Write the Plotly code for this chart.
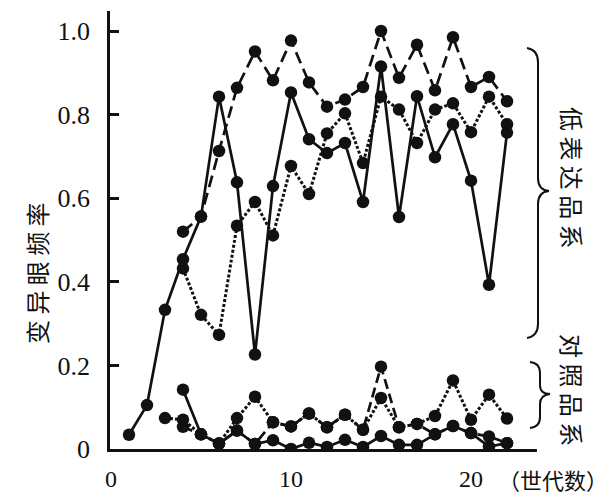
import plotly.graph_objects as go

# ---------------- data ----------------
gen_solid_high = list(range(1, 23))
solid_high = [0.034, 0.105, 0.333, 0.454, 0.556, 0.843, 0.638, 0.226, 0.629, 0.853, 0.741,
              0.708, 0.732, 0.591, 0.915, 0.555, 0.844, 0.698, 0.777, 0.642, 0.393, 0.757]
gen_dashed_high = list(range(4, 23))
dashed_high = [0.52, 0.556, 0.713, 0.864, 0.951, 0.882, 0.977, 0.877, 0.819, 0.836, 0.866,
               1.0, 0.888, 0.967, 0.858, 0.985, 0.866, 0.89, 0.832]
gen_dotted_high = list(range(4, 23))
dotted_high = [0.432, 0.321, 0.273, 0.534, 0.591, 0.511, 0.677, 0.61, 0.755, 0.803, 0.684,
               0.843, 0.812, 0.732, 0.812, 0.827, 0.758, 0.843, 0.777]

gen_dotted_ctrl = list(range(3, 23))
dotted_ctrl = [0.074, 0.07, 0.035, 0.013, 0.074, 0.125, 0.064, 0.054, 0.085, 0.052, 0.082,
               0.046, 0.122, 0.052, 0.06, 0.079, 0.164, 0.07, 0.13, 0.073]
gen_dashed_ctrl = list(range(4, 23))
dashed_ctrl = [0.053, 0.035, 0.013, 0.044, 0.012, 0.064, 0.054, 0.085, 0.052, 0.082, 0.046,
               0.197, 0.052, 0.06, 0.035, 0.055, 0.038, 0.03, 0.014]
gen_solid_ctrl = list(range(4, 23))
solid_ctrl = [0.142, 0.035, 0.013, 0.044, 0.012, 0.021, 0.0, 0.015, 0.005, 0.022, 0.005,
              0.031, 0.01, 0.01, 0.035, 0.055, 0.038, 0.006, 0.014]

y_tick_vals = [0, 0.2, 0.4, 0.6, 0.8, 1.0]
y_tick_text = ["0", "0.2", "0.4", "0.6", "0.8", "1.0"]
x_tick_vals = [0, 10, 20]
x_tick_text = ["0", "10", "20"]

y_title = "变异眼频率"
x_title = "（世代数）"
group_high = "低表达品系"
group_ctrl = "对照品系"

# ---------------- layout geometry ----------------
W, H = 613, 494
OFF = 8  # the page body has an 8px default margin
L, R, T, B = 110 - OFF, 537 - OFF, 11 - OFF, 449 - OFF


def px(x):
    return (x - OFF - L) / (R - L)


def py(y):
    return (B - (y - OFF)) / (B - T)


BLACK = "#111111"
CJK = "Noto Sans CJK SC"
SERIF = "Liberation Serif"

fig = go.Figure()


def add(xs, ys, dash, width=2.7):
    fig.add_trace(go.Scatter(
        x=xs, y=ys, mode="lines+markers",
        line=dict(color=BLACK, width=width, dash=dash),
        marker=dict(color=BLACK, size=12.5),
        showlegend=False, hoverinfo="skip"))


add(gen_dashed_ctrl, dashed_ctrl, "10px,5px")
add(gen_dotted_ctrl, dotted_ctrl, "3px,2px", 3)
add(gen_solid_ctrl, solid_ctrl, "solid")
add(gen_dotted_high, dotted_high, "3px,2px", 3)
add(gen_dashed_high, dashed_high, "12px,6px")
add(gen_solid_high, solid_high, "solid")

x0 = (L + OFF - 111) / 18.0
x1 = (R + OFF - 111) / 18.0
y1 = (B - T) / 418.0

fig.update_xaxes(range=[x0, x1], showline=True, linecolor=BLACK, linewidth=2.5,
                 showgrid=False, zeroline=False, ticks="", automargin=False,
                 tickvals=x_tick_vals, ticktext=x_tick_text,
                 tickfont=dict(family=SERIF, size=24, color=BLACK),
                 ticklabelstandoff=6)
fig.update_yaxes(range=[0, y1], showline=True, linecolor=BLACK, linewidth=2.5,
                 showgrid=False, zeroline=False, ticks="inside", ticklen=9,
                 tickwidth=2.5, tickcolor=BLACK, automargin=False,
                 tickvals=y_tick_vals, ticktext=y_tick_text,
                 tickfont=dict(family=SERIF, size=26, color=BLACK),
                 ticklabelstandoff=12)


def path_from(cmds):
    out = []
    for c in cmds:
        if isinstance(c, str):
            out.append(c)
        else:
            out.append("%.5f,%.5f" % (px(c[0]), py(c[1])))
    return " ".join(out)


top_brace = ["M", (527, 48), "Q", (538, 50), (538, 62), "L", (538, 178), "Q", (538, 190), (549, 191),
             "Q", (538, 192), (538, 204), "L", (538, 324), "Q", (538, 336), (527, 338)]
bot_brace = ["M", (530, 362), "Q", (540, 363), (540, 373), "L", (540, 385), "Q", (540, 394), (550, 394),
             "Q", (540, 395), (540, 404), "L", (540, 417), "Q", (540, 427), (530, 428)]

shapes = []
for b in (top_brace, bot_brace):
    shapes.append(dict(type="path", xref="paper", yref="paper", path=path_from(b),
                       line=dict(color=BLACK, width=2)))

sp = " "
annotations = [
    dict(text=sp.join(y_title), x=px(36), y=py(273), xref="paper", yref="paper",
         xanchor="center", yanchor="middle",
         showarrow=False, textangle=-90, font=dict(family=CJK, size=24, color=BLACK)),
    dict(text=x_title, x=px(496), y=py(479), xref="paper", yref="paper",
         xanchor="left", yanchor="middle",
         showarrow=False, font=dict(family=CJK, size=22, color=BLACK)),
    dict(text=sp.join(group_high), x=px(573), y=py(178), xref="paper", yref="paper",
         xanchor="center", yanchor="middle",
         showarrow=False, textangle=90, font=dict(family=CJK, size=24, color=BLACK)),
    dict(text=sp.join(group_ctrl), x=px(573), y=py(390), xref="paper", yref="paper",
         xanchor="center", yanchor="middle",
         showarrow=False, textangle=90, font=dict(family=CJK, size=24, color=BLACK)),
]

fig.update_layout(width=W, height=H, margin=dict(l=L, r=W - R, t=T, b=H - B),
                  paper_bgcolor="white", plot_bgcolor="white",
                  shapes=shapes, annotations=annotations)

fig.write_html("out.html")
